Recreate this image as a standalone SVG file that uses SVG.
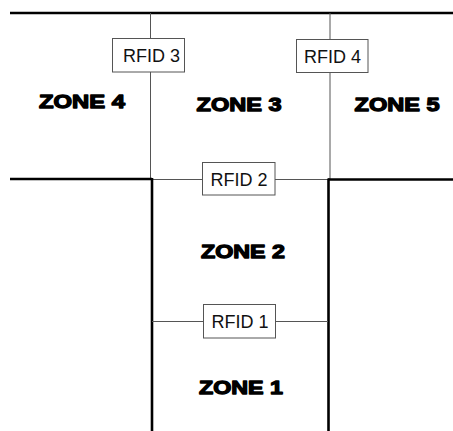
<svg xmlns="http://www.w3.org/2000/svg" width="453" height="431" viewBox="0 0 453 431">
<style>
.thick{stroke:#000;stroke-width:2.6;fill:none}
.thin{stroke:#555;stroke-width:1;fill:none}
.box{fill:#fff;stroke:#555;stroke-width:1}
.rf{font-family:"Liberation Sans",Arial,sans-serif;font-size:18px;fill:#111;text-anchor:middle}
.zn{font-family:"Liberation Sans",Arial,sans-serif;font-weight:bold;font-size:19px;fill:#000;stroke:#000;stroke-width:1.3;stroke-linejoin:round;text-anchor:middle}
</style>
<rect width="453" height="431" fill="#fff"/>
<g id="connectors">
<line class="thick" x1="10" y1="13" x2="453" y2="13"/>
<line class="thin" x1="150.5" y1="13" x2="150.5" y2="179"/>
<line class="thin" x1="330" y1="13" x2="330" y2="179"/>
<line class="thick" x1="10" y1="179" x2="152" y2="179"/>
<line class="thin" x1="152" y1="179.5" x2="328" y2="179.5"/>
<line class="thick" x1="328" y1="179.5" x2="453" y2="179.5"/>
<line class="thick" x1="152" y1="178" x2="152" y2="431"/>
<line class="thick" x1="328.5" y1="178.5" x2="328.5" y2="431"/>
<line class="thin" x1="152" y1="321.5" x2="328" y2="321.5"/>
</g>
<g id="rfid3"><rect class="box" x="112.5" y="38.5" width="72" height="33.5"/><text class="rf" x="151.5" y="61.5">RFID 3</text></g>
<g id="rfid4"><rect class="box" x="296.5" y="39.5" width="71.5" height="33"/><text class="rf" x="332.5" y="62.5">RFID 4</text></g>
<g id="rfid2"><rect class="box" x="202.5" y="162.5" width="72.5" height="32.5"/><text class="rf" x="239" y="185.5">RFID 2</text></g>
<g id="rfid1"><rect class="box" x="203.5" y="304.5" width="72" height="33.5"/><text class="rf" x="240" y="328">RFID 1</text></g>
<g id="zone4"><text class="zn" x="82" y="107.5" textLength="86" lengthAdjust="spacingAndGlyphs">ZONE 4</text></g>
<g id="zone3"><text class="zn" x="239" y="110.5" textLength="85" lengthAdjust="spacingAndGlyphs">ZONE 3</text></g>
<g id="zone5"><text class="zn" x="397" y="111" textLength="85" lengthAdjust="spacingAndGlyphs">ZONE 5</text></g>
<g id="zone2"><text class="zn" x="243" y="257.5" textLength="84" lengthAdjust="spacingAndGlyphs">ZONE 2</text></g>
<g id="zone1"><text class="zn" x="241" y="394" textLength="84" lengthAdjust="spacingAndGlyphs">ZONE 1</text></g>
</svg>
